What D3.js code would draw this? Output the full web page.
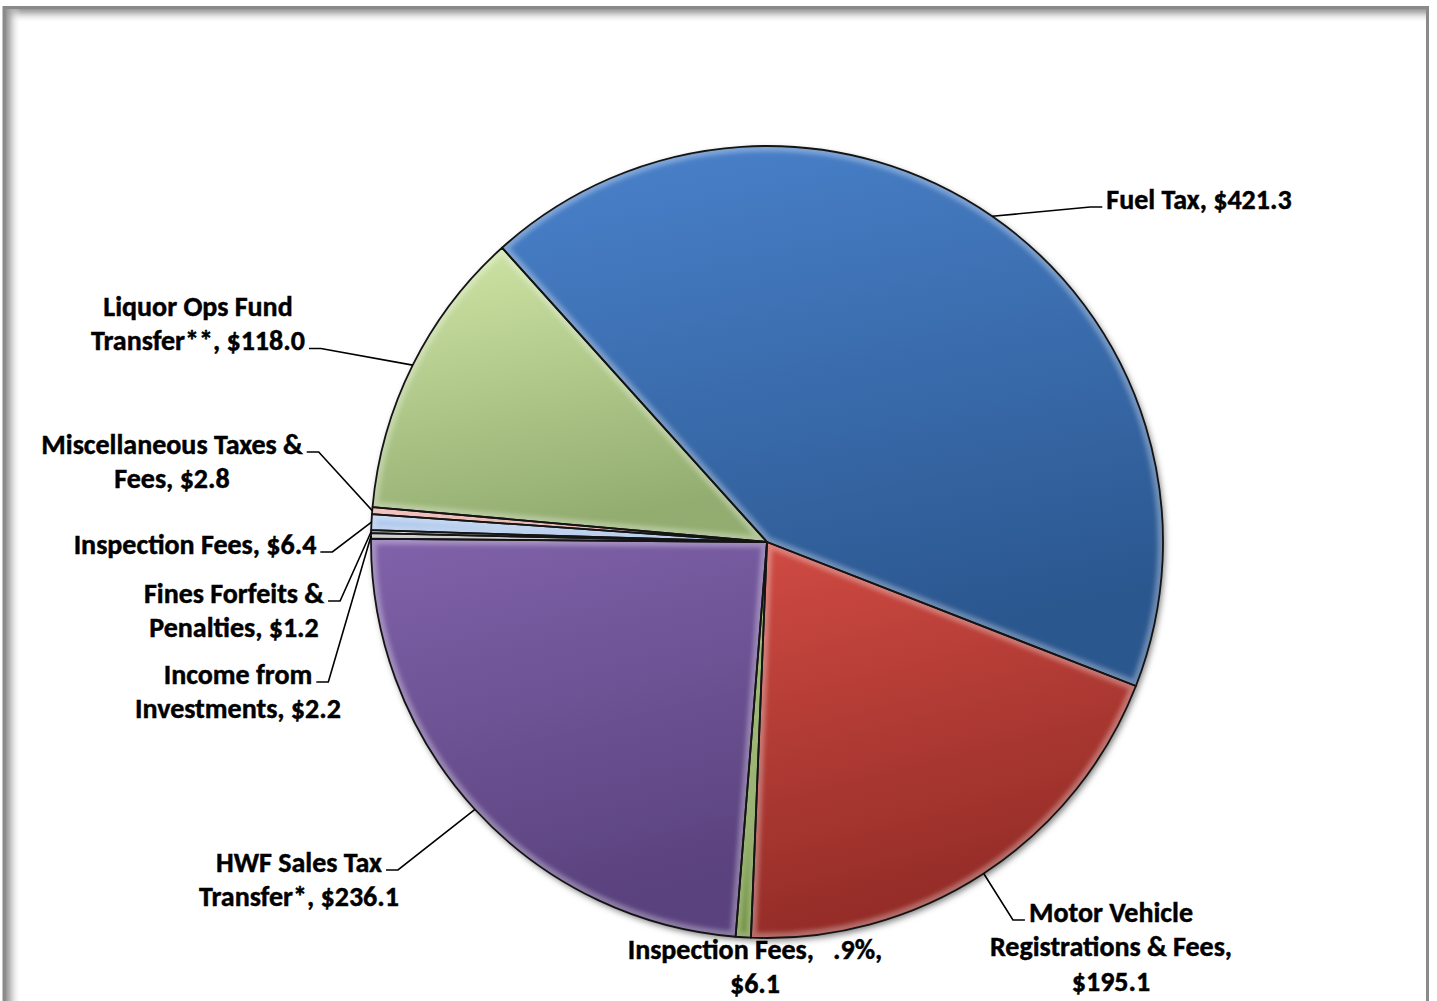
<!DOCTYPE html>
<html>
<head>
<meta charset="utf-8">
<script src="https://cdn.jsdelivr.net/npm/d3@7"></script>
<style>
  html, body { margin: 0; padding: 0; background: #ffffff; }
  svg { display: block; }
  .lbl { font-family: Carlito, Calibri, Lato, "Open Sans", sans-serif; font-weight: 700; fill: #000;
         stroke: #000; stroke-width: 0.45px; white-space: pre; }
</style>
</head>
<body>
<svg id="chart" width="1437" height="1001"></svg>
<script>
// Revenue sources ($ millions), clockwise from the top of the pie
const categories = [
  "Fuel Tax",
  "Motor Vehicle Registrations & Fees",
  "Inspection Fees",
  "HWF Sales Tax Transfer*",
  "Income from Investments",
  "Fines Forfeits & Penalties",
  "Inspection Fees",
  "Miscellaneous Taxes & Fees",
  "Liquor Ops Fund Transfer**"
];
const values = [421.3, 195.1, 6.1, 236.1, 2.2, 1.2, 6.4, 2.8, 118.0];

// Label text per slice; {v} is replaced by the formatted value
const labelTemplates = [
  ["Fuel Tax, {v}"],
  ["Motor Vehicle", "Registrations & Fees,", "{v}"],
  ["Inspection Fees,   .9%,", "{v}"],
  ["HWF Sales Tax", "Transfer*, {v}"],
  ["Income from", "Investments, {v}"],
  ["Fines Forfeits &", "Penalties, {v}"],
  ["Inspection Fees, {v}"],
  ["Miscellaneous Taxes &", "Fees, {v}"],
  ["Liquor Ops Fund", "Transfer**, {v}"]
];

// Slice fills: [lit top, shaded bottom]
const sliceColors = [
  ["#4a82cc", "#2b578f"],
  ["#d04b43", "#922b26"],
  ["#82a844", "#688b35"],
  ["#8062aa", "#5a427e"],
  ["#c4c4c4", "#a9a9a9"],
  ["#d6d6d6", "#bdbdbd"],
  ["#b3cdf0", "#9ab8e2"],
  ["#eeaaa3", "#dc948c"],
  ["#d0e6a7", "#93ad70"]
];

// Placement of each label block: centre x, first-line centre y,
// side the leader leaves from, and which line it attaches to
const labelLayout = [
  { cx: 1199, y: 199, side: "right", line: 0 },
  { cx: 1111, y: 912, side: "right", line: 0 },
  { cx: 755,  y: 949, side: "none",  line: 0 },
  { cx: 299,  y: 862, side: "left",  line: 0 },
  { cx: 238,  y: 674, side: "left",  line: 0 },
  { cx: 234,  y: 593, side: "left",  line: 0 },
  { cx: 195,  y: 544, side: "left",  line: 0 },
  { cx: 172,  y: 444, side: "left",  line: 0 },
  { cx: 198,  y: 306, side: "left",  line: 1 }
];

const W = 1437, H = 1001;
const cx = 767, cy = 542, R = 396;
const startDeg = -42;
const fontSize = 28, lineH = 34.5;
const fmt = d3.format("$.1f");

const svg = d3.select("#chart");
const defs = svg.append("defs");

// ---- frame with soft inner shadow along top and left ----
const gTop = defs.append("linearGradient").attr("id", "shTop")
  .attr("x1", 0).attr("y1", 0).attr("x2", 0).attr("y2", 1);
gTop.append("stop").attr("offset", 0).attr("stop-color", "#8c8c8c").attr("stop-opacity", 1);
gTop.append("stop").attr("offset", 0.3).attr("stop-color", "#a8a8a8").attr("stop-opacity", 0.8);
gTop.append("stop").attr("offset", 1).attr("stop-color", "#ffffff").attr("stop-opacity", 0);
const gLeft = defs.append("linearGradient").attr("id", "shLeft")
  .attr("x1", 0).attr("y1", 0).attr("x2", 1).attr("y2", 0);
gLeft.append("stop").attr("offset", 0).attr("stop-color", "#8c8c8c").attr("stop-opacity", 1);
gLeft.append("stop").attr("offset", 0.3).attr("stop-color", "#a8a8a8").attr("stop-opacity", 0.8);
gLeft.append("stop").attr("offset", 1).attr("stop-color", "#ffffff").attr("stop-opacity", 0);

svg.append("rect").attr("x", 0).attr("y", 0).attr("width", W).attr("height", H).attr("fill", "#fff");
svg.append("rect").attr("x", 5).attr("y", 8).attr("width", 1422).attr("height", 15).attr("fill", "url(#shTop)");
svg.append("rect").attr("x", 5).attr("y", 8).attr("width", 16).attr("height", H).attr("fill", "url(#shLeft)");
svg.append("rect").attr("x", 4).attr("y", 7.5).attr("width", 1423.5).attr("height", H + 20)
  .attr("fill", "none").attr("stroke", "#8a8a8a").attr("stroke-width", 3);

// ---- filters ----
const shadow = defs.append("filter").attr("id", "pieShadow")
  .attr("x", "-10%").attr("y", "-10%").attr("width", "120%").attr("height", "120%");
shadow.append("feDropShadow").attr("dx", 2).attr("dy", 3).attr("stdDeviation", 3)
  .attr("flood-color", "#000").attr("flood-opacity", 0.5);
const soft = defs.append("filter").attr("id", "bevelBlur")
  .attr("x", "-20%").attr("y", "-20%").attr("width", "140%").attr("height", "140%");
soft.append("feGaussianBlur").attr("stdDeviation", 2.2);

// ---- pie ----
const pie = d3.pie().sort(null).value(d => d)
  .startAngle(startDeg * Math.PI / 180)
  .endAngle(startDeg * Math.PI / 180 + 2 * Math.PI);
const arcs = pie(values);
const arc = d3.arc().innerRadius(0).outerRadius(R);
const rimArc = d3.arc().innerRadius(R).outerRadius(R);

arcs.forEach((d, i) => {
  const g = defs.append("linearGradient").attr("id", "fill" + i)
    .attr("x1", 0).attr("y1", 0).attr("x2", 0.25).attr("y2", 1);
  g.append("stop").attr("offset", 0).attr("stop-color", sliceColors[i][0]);
  g.append("stop").attr("offset", 1).attr("stop-color", sliceColors[i][1]);
  defs.append("clipPath").attr("id", "clip" + i)
    .append("path").attr("d", arc(d)).attr("transform", `translate(${cx},${cy})`);
});

const pieG = svg.append("g").attr("transform", `translate(${cx},${cy})`);
pieG.append("circle").attr("r", R).attr("fill", "#666").attr("filter", "url(#pieShadow)");

const slices = pieG.selectAll("g.slice").data(arcs).join("g").attr("class", "slice");
slices.append("path")
  .attr("d", arc)
  .attr("fill", (d, i) => `url(#fill${i})`);

// soft bevel: light inner rim clipped to each slice
const bevel = svg.append("g");
arcs.forEach((d, i) => {
  const b = bevel.append("g").attr("clip-path", `url(#clip${i})`);
  b.append("path").attr("d", arc(d)).attr("transform", `translate(${cx},${cy})`)
    .attr("fill", "none").attr("stroke", "#ffffff").attr("stroke-opacity", 0.3)
    .attr("stroke-width", 11).attr("filter", "url(#bevelBlur)");
});

// outlines
const outG = svg.append("g").attr("transform", `translate(${cx},${cy})`);
outG.selectAll("path").data(arcs).join("path")
  .attr("d", arc)
  .attr("fill", "none")
  .attr("stroke", "#141414")
  .attr("stroke-width", 1.8)
  .attr("stroke-linejoin", "round");

// ---- data labels and leader lines ----
const labelG = svg.append("g");
const leaderG = svg.append("g");

arcs.forEach((d, i) => {
  const lay = labelLayout[i];
  const lines = labelTemplates[i].map(s => s.replace("{v}", fmt(values[i])));
  const t = labelG.append("text").attr("class", "lbl")
    .attr("font-size", fontSize).attr("text-anchor", "middle");
  const spans = lines.map((s, k) =>
    t.append("tspan").attr("x", lay.cx).attr("y", lay.y + k * lineH).attr("dy", "0.35em").text(s));

  if (lay.side === "none") return;
  const node = spans[lay.line].node();
  const w = node.getComputedTextLength();
  const ly = lay.y + lay.line * lineH + 8;
  const p = rimArc.centroid(d);
  const pt = [cx + p[0], cy + p[1]];
  let a, b;
  if (lay.side === "left") {
    a = lay.cx + w / 2 + 4; b = a + 12;
  } else {
    a = lay.cx - w / 2 - 4; b = a - 12;
  }
  leaderG.append("path")
    .attr("d", d3.line()([[a, ly], [b, ly], pt]))
    .attr("fill", "none").attr("stroke", "#000").attr("stroke-width", 1.6);
});
</script>
</body>
</html>
